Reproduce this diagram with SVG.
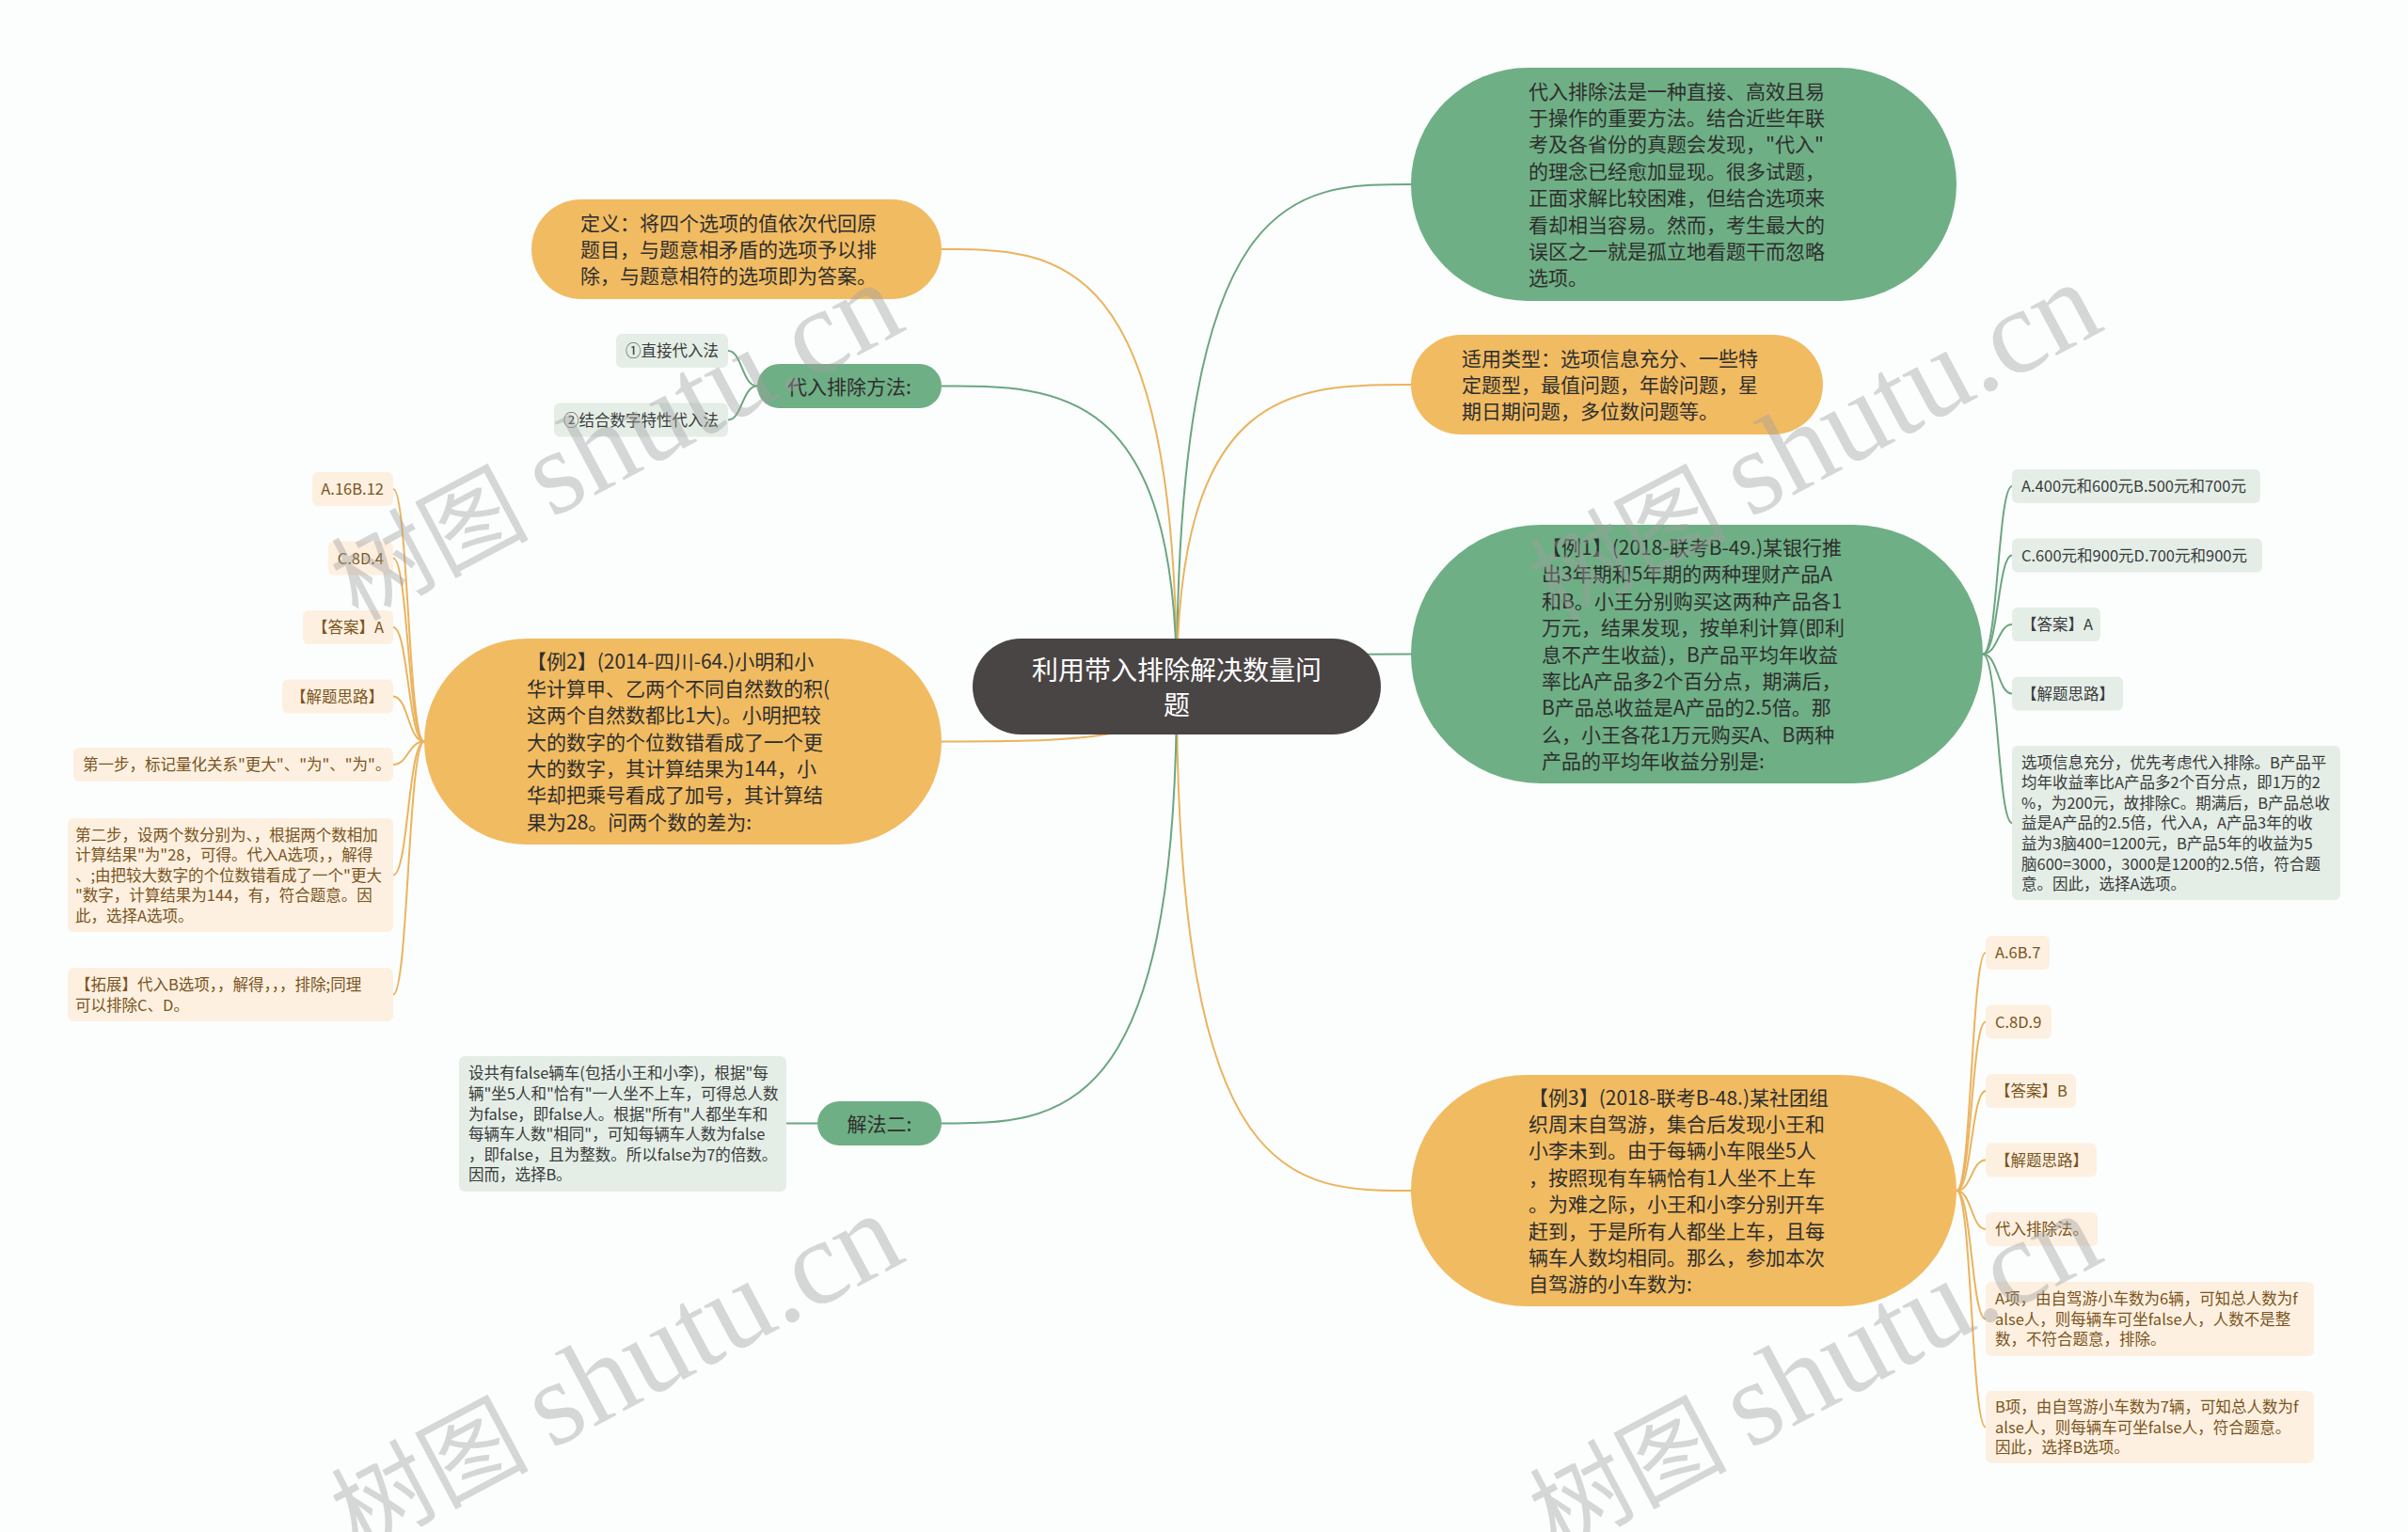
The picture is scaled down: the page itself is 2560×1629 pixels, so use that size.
<svg xmlns="http://www.w3.org/2000/svg" width="2560" height="1629" viewBox="0 0 2560 1629">
<style>
text{font-family:"Noto Sans CJK SC","Noto Sans",sans-serif}
.root{fill:#4a4545}
.gn{fill:#6faf85}
.on{fill:#f1bb62}
.gc{fill:#e4eee7}
.oc{fill:#fdf0e0}
.tr{font-size:28px;fill:#ffffff}
.tm{font-size:21px;fill:#2e2e2e}
.tg{font-size:16.5px;fill:#3a3a3a}
.to{font-size:16.5px;fill:#7a5420}
.lg{fill:none;stroke:#6ba680;stroke-width:2}
.lo{fill:none;stroke:#ebb35e;stroke-width:2}
.wm{font-size:105px;fill:#a0a0a0;fill-opacity:0.42}
.wl{font-family:"Liberation Serif",serif;font-size:128px}
</style>
<rect x="0" y="0" width="2560" height="1629" fill="#fcfefd"/>
<g id="connectors">
<path class="lg" d="M1251 730 C1251 196 1375.5 196 1500 196"/>
<path class="lo" d="M1251 730 C1251 409 1375.5 409 1500 409"/>
<path class="lg" d="M1251 730 C1251 695.5 1375.5 695.5 1500 695.5"/>
<path class="lo" d="M1251 730 C1251 1266 1375.5 1266 1500 1266"/>
<path class="lo" d="M1251 730 C1251 265 1126 265 1001 265"/>
<path class="lg" d="M1251 730 C1251 410.5 1126 410.5 1001 410.5"/>
<path class="lo" d="M1251 730 C1251 788.5 1126 788.5 1001 788.5"/>
<path class="lg" d="M1251 730 C1251 1194.5 1126 1194.5 1001 1194.5"/>
<path class="lg" d="M2108 695.5 C2124 695.5 2124 517 2139 517"/>
<path class="lg" d="M2108 695.5 C2124 695.5 2124 590.5 2139 590.5"/>
<path class="lg" d="M2108 695.5 C2124 695.5 2124 664 2139 664"/>
<path class="lg" d="M2108 695.5 C2124 695.5 2124 737.5 2139 737.5"/>
<path class="lg" d="M2108 695.5 C2124 695.5 2124 875 2139 875"/>
<path class="lo" d="M2080 1266 C2096 1266 2096 1013 2111 1013"/>
<path class="lo" d="M2080 1266 C2096 1266 2096 1086.5 2111 1086.5"/>
<path class="lo" d="M2080 1266 C2096 1266 2096 1160 2111 1160"/>
<path class="lo" d="M2080 1266 C2096 1266 2096 1233.5 2111 1233.5"/>
<path class="lo" d="M2080 1266 C2096 1266 2096 1307 2111 1307"/>
<path class="lo" d="M2080 1266 C2096 1266 2096 1402.5 2111 1402.5"/>
<path class="lo" d="M2080 1266 C2096 1266 2096 1517.5 2111 1517.5"/>
<path class="lo" d="M451 788.5 C434 788.5 434 520 418 520"/>
<path class="lo" d="M451 788.5 C434 788.5 434 593.5 418 593.5"/>
<path class="lo" d="M451 788.5 C434 788.5 434 667 418 667"/>
<path class="lo" d="M451 788.5 C434 788.5 434 740.5 418 740.5"/>
<path class="lo" d="M451 788.5 C434 788.5 434 813 418 813"/>
<path class="lo" d="M451 788.5 C434 788.5 434 930.5 418 930.5"/>
<path class="lo" d="M451 788.5 C434 788.5 434 1057.5 418 1057.5"/>
<path class="lg" d="M805 410.5 C789 410.5 789 373 774 373"/>
<path class="lg" d="M805 410.5 C789 410.5 789 446.5 774 446.5"/>
<path class="lg" d="M869 1194.5 L836 1194.5"/>
</g>
<g id="root"><rect class="root" x="1034" y="679" width="434" height="102" rx="51"/><text class="tr" text-anchor="middle"><tspan x="1251" y="722.6">利用带入排除解决数量问</tspan><tspan x="1251" y="759.6">题</tspan></text></g>
<g id="n-intro"><rect class="gn" x="1500" y="72" width="580" height="248" rx="124"/><text class="tm" x="1625" y="104.6"><tspan x="1625">代入排除法是一种直接、高效且易</tspan><tspan x="1625" dy="28.4">于操作的重要方法。结合近些年联</tspan><tspan x="1625" dy="28.4">考及各省份的真题会发现，"代入"</tspan><tspan x="1625" dy="28.4">的理念已经愈加显现。很多试题，</tspan><tspan x="1625" dy="28.4">正面求解比较困难，但结合选项来</tspan><tspan x="1625" dy="28.4">看却相当容易。然而，考生最大的</tspan><tspan x="1625" dy="28.4">误区之一就是孤立地看题干而忽略</tspan><tspan x="1625" dy="28.4">选项。</tspan></text></g>
<g id="n-type"><rect class="on" x="1500" y="356" width="438" height="106" rx="53"/><text class="tm" x="1554" y="388.6"><tspan x="1554">适用类型：选项信息充分、一些特</tspan><tspan x="1554" dy="28.4">定题型，最值问题，年龄问题，星</tspan><tspan x="1554" dy="28.4">期日期问题，多位数问题等。</tspan></text></g>
<g id="n-ex1"><rect class="gn" x="1500" y="558" width="608" height="275" rx="137.5"/><text class="tm" x="1639" y="589.9"><tspan x="1639">【例1】(2018-联考B-49.)某银行推</tspan><tspan x="1639" dy="28.4">出3年期和5年期的两种理财产品A</tspan><tspan x="1639" dy="28.4">和B。小王分别购买这两种产品各1</tspan><tspan x="1639" dy="28.4">万元，结果发现，按单利计算(即利</tspan><tspan x="1639" dy="28.4">息不产生收益)，B产品平均年收益</tspan><tspan x="1639" dy="28.4">率比A产品多2个百分点，期满后，</tspan><tspan x="1639" dy="28.4">B产品总收益是A产品的2.5倍。那</tspan><tspan x="1639" dy="28.4">么，小王各花1万元购买A、B两种</tspan><tspan x="1639" dy="28.4">产品的平均年收益分别是:</tspan></text></g>
<g id="n-ex1-a"><rect class="gc" x="2139" y="499" width="264" height="36" rx="6"/><text class="tg" x="2149" y="523.3">A.400元和600元B.500元和700元</text></g>
<g id="n-ex1-c"><rect class="gc" x="2139" y="572.5" width="266" height="36" rx="6"/><text class="tg" x="2149" y="596.8">C.600元和900元D.700元和900元</text></g>
<g id="n-ex1-ans"><rect class="gc" x="2139" y="646" width="94" height="36" rx="6"/><text class="tg" x="2149" y="670.3">【答案】A</text></g>
<g id="n-ex1-idea"><rect class="gc" x="2139" y="719.5" width="118" height="36" rx="6"/><text class="tg" x="2149" y="743.8">【解题思路】</text></g>
<g id="n-ex1-sol"><rect class="gc" x="2139" y="793" width="349" height="164" rx="6"/><text class="tg" x="2149" y="816.5"><tspan x="2149">选项信息充分，优先考虑代入排除。B产品平</tspan><tspan x="2149" dy="21.6">均年收益率比A产品多2个百分点，即1万的2</tspan><tspan x="2149" dy="21.6">%，为200元，故排除C。期满后，B产品总收</tspan><tspan x="2149" dy="21.6">益是A产品的2.5倍，代入A，A产品3年的收</tspan><tspan x="2149" dy="21.6">益为3脑400=1200元，B产品5年的收益为5</tspan><tspan x="2149" dy="21.6">脑600=3000，3000是1200的2.5倍，符合题</tspan><tspan x="2149" dy="21.6">意。因此，选择A选项。</tspan></text></g>
<g id="n-ex3"><rect class="on" x="1500" y="1143" width="580" height="246" rx="123"/><text class="tm" x="1625" y="1174.6"><tspan x="1625">【例3】(2018-联考B-48.)某社团组</tspan><tspan x="1625" dy="28.4">织周末自驾游，集合后发现小王和</tspan><tspan x="1625" dy="28.4">小李未到。由于每辆小车限坐5人</tspan><tspan x="1625" dy="28.4">，按照现有车辆恰有1人坐不上车</tspan><tspan x="1625" dy="28.4">。为难之际，小王和小李分别开车</tspan><tspan x="1625" dy="28.4">赶到，于是所有人都坐上车，且每</tspan><tspan x="1625" dy="28.4">辆车人数均相同。那么，参加本次</tspan><tspan x="1625" dy="28.4">自驾游的小车数为:</tspan></text></g>
<g id="n-ex3-a"><rect class="oc" x="2111" y="995" width="68" height="36" rx="6"/><text class="to" x="2121" y="1019.3">A.6B.7</text></g>
<g id="n-ex3-c"><rect class="oc" x="2111" y="1068.5" width="70" height="36" rx="6"/><text class="to" x="2121" y="1092.8">C.8D.9</text></g>
<g id="n-ex3-ans"><rect class="oc" x="2111" y="1142" width="96" height="36" rx="6"/><text class="to" x="2121" y="1166.3">【答案】B</text></g>
<g id="n-ex3-idea"><rect class="oc" x="2111" y="1215.5" width="118" height="36" rx="6"/><text class="to" x="2121" y="1239.8">【解题思路】</text></g>
<g id="n-ex3-m"><rect class="oc" x="2111" y="1289" width="119" height="36" rx="6"/><text class="to" x="2121" y="1313.3">代入排除法。</text></g>
<g id="n-ex3-ja"><rect class="oc" x="2111" y="1363" width="349" height="79" rx="6"/><text class="to" x="2121" y="1387.2"><tspan x="2121">A项，由自驾游小车数为6辆，可知总人数为f</tspan><tspan x="2121" dy="21.6">alse人，则每辆车可坐false人，人数不是整</tspan><tspan x="2121" dy="21.6">数，不符合题意，排除。</tspan></text></g>
<g id="n-ex3-jb"><rect class="oc" x="2111" y="1479" width="349" height="77" rx="6"/><text class="to" x="2121" y="1502.2"><tspan x="2121">B项，由自驾游小车数为7辆，可知总人数为f</tspan><tspan x="2121" dy="21.6">alse人，则每辆车可坐false人，符合题意。</tspan><tspan x="2121" dy="21.6">因此，选择B选项。</tspan></text></g>
<g id="n-def"><rect class="on" x="565" y="212" width="436" height="106" rx="53"/><text class="tm" x="617" y="244.6"><tspan x="617">定义：将四个选项的值依次代回原</tspan><tspan x="617" dy="28.4">题目，与题意相矛盾的选项予以排</tspan><tspan x="617" dy="28.4">除，与题意相符的选项即为答案。</tspan></text></g>
<g id="n-method"><rect class="gn" x="805" y="387" width="196" height="47" rx="23.5"/><text class="tm" x="903" y="418.5" text-anchor="middle">代入排除方法:</text></g>
<g id="n-method-1"><rect class="gc" x="655" y="355" width="119" height="36" rx="6"/><text class="tg" x="764" y="379.3" text-anchor="end">①直接代入法</text></g>
<g id="n-method-2"><rect class="gc" x="589" y="428.5" width="185" height="36" rx="6"/><text class="tg" x="764" y="452.8" text-anchor="end">②结合数字特性代入法</text></g>
<g id="n-ex2"><rect class="on" x="451" y="679" width="550" height="219" rx="109.5"/><text class="tm" x="560" y="711.3"><tspan x="560">【例2】(2014-四川-64.)小明和小</tspan><tspan x="560" dy="28.4">华计算甲、乙两个不同自然数的积(</tspan><tspan x="560" dy="28.4">这两个自然数都比1大)。小明把较</tspan><tspan x="560" dy="28.4">大的数字的个位数错看成了一个更</tspan><tspan x="560" dy="28.4">大的数字，其计算结果为144，小</tspan><tspan x="560" dy="28.4">华却把乘号看成了加号，其计算结</tspan><tspan x="560" dy="28.4">果为28。问两个数的差为:</tspan></text></g>
<g id="n-ex2-a"><rect class="oc" x="332" y="502" width="86" height="36" rx="6"/><text class="to" x="408" y="526.3" text-anchor="end">A.16B.12</text></g>
<g id="n-ex2-c"><rect class="oc" x="349" y="575.5" width="69" height="36" rx="6"/><text class="to" x="408" y="599.8" text-anchor="end">C.8D.4</text></g>
<g id="n-ex2-ans"><rect class="oc" x="322" y="649" width="96" height="36" rx="6"/><text class="to" x="408" y="673.3" text-anchor="end">【答案】A</text></g>
<g id="n-ex2-idea"><rect class="oc" x="300" y="722.5" width="118" height="36" rx="6"/><text class="to" x="408" y="746.8" text-anchor="end">【解题思路】</text></g>
<g id="n-ex2-s1"><rect class="oc" x="78" y="795" width="340" height="36" rx="6"/><text class="to" x="88" y="819.3">第一步，标记量化关系"更大"、"为"、"为"。</text></g>
<g id="n-ex2-s2"><rect class="oc" x="72" y="870" width="346" height="121" rx="6"/><text class="to" x="80" y="893.6"><tspan x="80">第二步，设两个数分别为、，根据两个数相加</tspan><tspan x="80" dy="21.6">计算结果"为"28，可得。代入A选项，，解得</tspan><tspan x="80" dy="21.6">、;由把较大数字的个位数错看成了一个"更大</tspan><tspan x="80" dy="21.6">"数字，计算结果为144，有，符合题意。因</tspan><tspan x="80" dy="21.6">此，选择A选项。</tspan></text></g>
<g id="n-ex2-ext"><rect class="oc" x="72" y="1029" width="346" height="57" rx="6"/><text class="to" x="80" y="1053"><tspan x="80">【拓展】代入B选项，，解得，，，排除;同理</tspan><tspan x="80" dy="21.6">可以排除C、D。</tspan></text></g>
<g id="n-sol2"><rect class="gn" x="869" y="1171" width="132" height="47" rx="23.5"/><text class="tm" x="935" y="1202.5" text-anchor="middle">解法二:</text></g>
<g id="n-sol2-t"><rect class="gc" x="488" y="1123" width="348" height="144" rx="6"/><text class="tg" x="498" y="1147.3"><tspan x="498">设共有false辆车(包括小王和小李)，根据"每</tspan><tspan x="498" dy="21.6">辆"坐5人和"恰有"一人坐不上车，可得总人数</tspan><tspan x="498" dy="21.6">为false，即false人。根据"所有"人都坐车和</tspan><tspan x="498" dy="21.6">每辆车人数"相同"，可知每辆车人数为false</tspan><tspan x="498" dy="21.6">，即false，且为整数。所以false为7的倍数。</tspan><tspan x="498" dy="21.6">因而，选择B。</tspan></text></g>
<g id="watermarks">
<text class="wm" transform="translate(380,661) rotate(-28)">树图 <tspan class="wl">shutu.cn</tspan></text>
<text class="wm" transform="translate(1654,661) rotate(-28)">树图 <tspan class="wl">shutu.cn</tspan></text>
<text class="wm" transform="translate(380,1651) rotate(-28)">树图 <tspan class="wl">shutu.cn</tspan></text>
<text class="wm" transform="translate(1654,1651) rotate(-28)">树图 <tspan class="wl">shutu.cn</tspan></text>
</g>
</svg>
